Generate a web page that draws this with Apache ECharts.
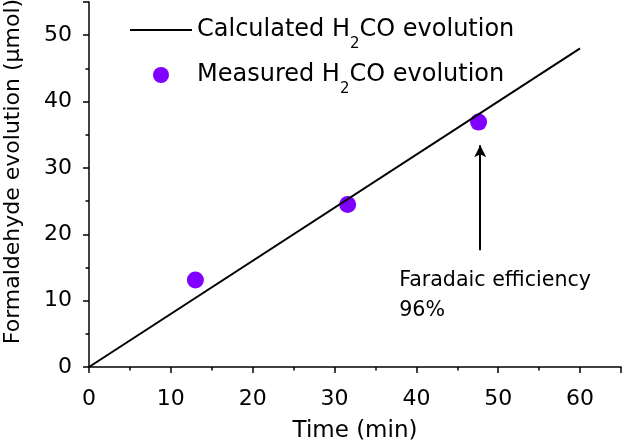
<!DOCTYPE html>
<html>
<head>
<meta charset="utf-8">
<script src="https://cdn.jsdelivr.net/npm/echarts@6/dist/echarts.min.js"></script>
<style>html,body{margin:0;padding:0;background:#fff}#c{width:622px;height:445px}</style>
</head>
<body>
<div id="c"></div>
<script>
// Calculated line (time in min, µmol)
var calcTime = [0, 60];
var calcAmount = [0, 48];
// Measured points
var measTime = [13.0, 31.6, 47.6];
var measAmount = [13.1, 24.5, 36.9];
// Annotation arrow (x, y from, y to) and text anchor
var arrowX = 47.8, arrowYFrom = 17.6, arrowYTo = 33.4;
var noteX = 37.9, noteY = 10.8;
var noteText = 'Faradaic efficiency\n96%';
var xTicks = [0, 10, 20, 30, 40, 50, 60];
var yTicks = [0, 10, 20, 30, 40, 50];

var FONT = '"DejaVu Sans", sans-serif';
var chart = echarts.init(document.getElementById('c'));
chart.setOption({
  animation: false,
  backgroundColor: '#fff',
  textStyle: { fontFamily: FONT, color: '#000' },
  grid: { left: 89, right: 1, top: 2, bottom: 78, containLabel: false, outerBoundsMode: 'none' },
  legend: {
    orient: 'vertical', left: 129, top: 8, padding: 0,
    itemWidth: 62, itemHeight: 16, itemGap: 1,
    data: [
      { name: 'calc', itemStyle: { color: 'rgba(0,0,0,0)', opacity: 0, borderWidth: 0 } },
      { name: 'meas' }
    ],
    formatter: function (n) {
      return n === 'calc' ? 'Calculated H{sub|2}CO evolution' : 'Measured H{sub|2}CO evolution';
    },
    textStyle: {
      fontFamily: FONT, fontSize: 24, color: '#000', lineHeight: 44,
      rich: { sub: { fontFamily: FONT, fontSize: 15, lineHeight: 15, verticalAlign: 'bottom', color: '#000' } }
    }
  },
  xAxis: {
    type: 'value', min: 0, max: 65, interval: 10,
    name: 'Time (min)', nameLocation: 'middle', nameGap: 53,
    nameTextStyle: { fontFamily: FONT, fontSize: 23, color: '#000' },
    axisLine: { show: true, onZero: false, lineStyle: { color: '#000', width: 1.5 } },
    axisTick: { show: true, inside: false, length: 6, lineStyle: { color: '#000', width: 1.5 } },
    minorTick: { show: true, splitNumber: 2, length: 3.5, lineStyle: { color: '#000', width: 1.5 } },
    splitLine: { show: false },
    axisLabel: { fontFamily: FONT, fontSize: 22, color: '#000', margin: 21, showMaxLabel: false,
      formatter: function (v) { return xTicks.indexOf(v) >= 0 ? String(v) : ''; } }
  },
  yAxis: {
    type: 'value', min: 0, max: 55, interval: 10,
    name: 'Formaldehyde evolution (\u03bcmol)', nameLocation: 'middle', nameGap: 65,
    nameTextStyle: { fontFamily: FONT, fontSize: 22, color: '#000', padding: [0, 0, 0, 26] },
    axisLine: { show: true, onZero: false, lineStyle: { color: '#000', width: 1.5 } },
    axisTick: { show: true, inside: false, length: 6, lineStyle: { color: '#000', width: 1.5 } },
    minorTick: { show: true, splitNumber: 2, length: 3.5, lineStyle: { color: '#000', width: 1.5 } },
    splitLine: { show: false },
    axisLabel: { fontFamily: FONT, fontSize: 22, color: '#000', margin: 17, showMaxLabel: false,
      formatter: function (v) { return yTicks.indexOf(v) >= 0 ? String(v) : ''; } }
  },
  series: [
    {
      name: 'calc', type: 'line', symbol: 'none', showSymbol: false,
      data: calcTime.map(function (t, i) { return [t, calcAmount[i]]; }),
      lineStyle: { color: '#000', width: 2 }, itemStyle: { color: '#000' }
    },
    {
      name: 'meas', type: 'scatter', symbol: 'circle', symbolSize: 17,
      data: measTime.map(function (t, i) { return [t, measAmount[i]]; }),
      itemStyle: { color: '#8000ff', opacity: 1 },
      markLine: {
        silent: true, symbol: ['none', 'arrow'], symbolSize: [9, 12],
        label: { show: false },
        lineStyle: { color: '#000', width: 2, type: 'solid' },
        data: [[{ coord: [arrowX, arrowYFrom] }, { coord: [arrowX, arrowYTo] }]]
      },
      markPoint: {
        silent: true, symbol: 'circle', symbolSize: 0,
        itemStyle: { color: 'transparent' },
        label: { show: true, position: 'right', distance: 0, fontFamily: FONT, fontSize: 20.6,
          lineHeight: 30, color: '#000', align: 'left', formatter: noteText },
        data: [{ coord: [noteX, noteY] }]
      }
    }
  ]
});
</script>
</body>
</html>
